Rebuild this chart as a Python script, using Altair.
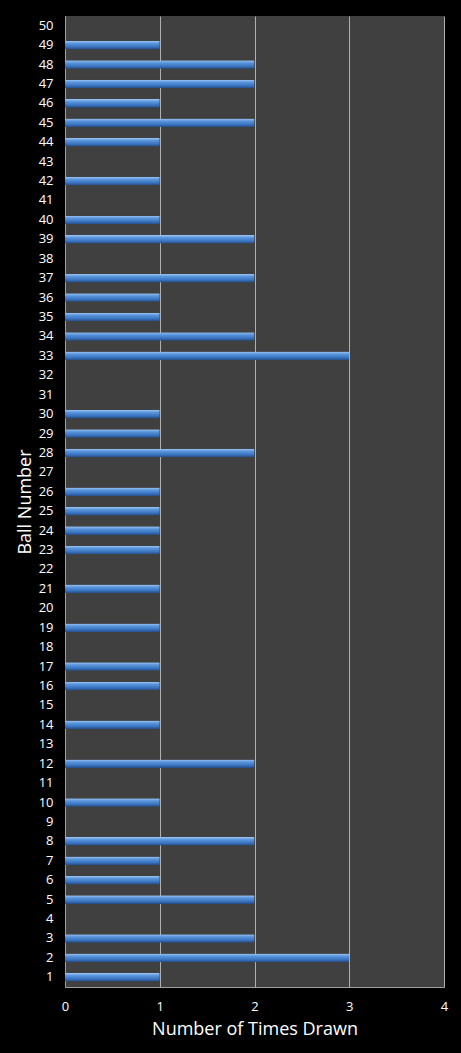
import altair as alt
import pandas as pd

balls = list(range(1, 51))
times_drawn = [1, 3, 2, 0, 2, 1, 1, 2, 0, 1,
               0, 2, 0, 1, 0, 1, 1, 0, 1, 0,
               1, 0, 1, 1, 1, 1, 0, 2, 1, 1,
               0, 0, 3, 2, 1, 1, 2, 0, 2, 1,
               0, 1, 0, 1, 2, 1, 2, 2, 1, 0]
x_ticks = [0, 1, 2, 3, 4]

df = pd.DataFrame({"ball": [str(b) for b in balls], "times": times_drawn})
order = [str(b) for b in reversed(balls)]

grad = alt.Gradient(
    gradient="linear",
    stops=[alt.GradientStop(color="#9cc8f4", offset=0),
           alt.GradientStop(color="#5b95dc", offset=0.3),
           alt.GradientStop(color="#3a74c0", offset=0.7),
           alt.GradientStop(color="#244c86", offset=1)],
    x1=0, x2=0, y1=0, y2=1,
)

font = "Open Sans"

chart = alt.Chart(df).mark_bar(color=grad, cornerRadius=1).encode(
    x=alt.X("times:Q",
            scale=alt.Scale(domain=[0, 4], nice=False),
            axis=alt.Axis(values=x_ticks, title="Number of Times Drawn",
                          format="d", grid=True, gridColor="#b0b0b0",
                          gridWidth=1, domainColor="#a0a0a0", ticks=False,
                          labelFlush=False,
                          labelColor="white", labelFont=font, labelFontSize=13,
                          labelPadding=13, titleColor="white", titleFont=font,
                          titleFontSize=18, titleFontWeight="normal",
                          titlePadding=7)),
    y=alt.Y("ball:N", sort=order,
            scale=alt.Scale(paddingInner=0.56, paddingOuter=0.28),
            axis=alt.Axis(title="Ball Number", ticks=False,
                          domainColor="#a0a0a0", labelColor="white",
                          labelFont=font, labelFontSize=13, labelPadding=12,
                          labelAlign="right", titleColor="white", titleFont=font,
                          titleFontSize=18, titleFontWeight="normal",
                          titlePadding=4)),
).properties(
    width=379, height=971,
    background="black",
    padding={"left": 65, "top": 16, "right": 17, "bottom": 66},
    autosize=alt.AutoSizeParams(type="none"),
).configure_view(fill="#404040", stroke=None)

chart.save("out.html", embed_options={"renderer": "svg", "actions": False})
